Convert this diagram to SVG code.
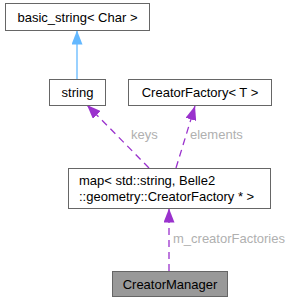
<svg xmlns="http://www.w3.org/2000/svg" width="292" height="301" viewBox="0 0 292 301">
<style>
.box{fill:#fff;stroke:#666;stroke-width:1}
.t{font-family:"Liberation Sans",Arial,sans-serif;font-size:13px;fill:#000}
.lbl{font-family:"Liberation Sans",Arial,sans-serif;font-size:13px;fill:#b0b0b0}
.e{fill:none;stroke:#9a32cd;stroke-width:1.3;stroke-dasharray:7,5}
</style>
<defs>
<marker id="pa" markerWidth="14" markerHeight="11" refX="14" refY="5.5" orient="auto" markerUnits="userSpaceOnUse" viewBox="0 0 14 11"><path d="M0,0 L14,5.5 L0,11 z" fill="#9a32cd"/></marker>
<marker id="ba" markerWidth="14" markerHeight="11" refX="14" refY="5.5" orient="auto" markerUnits="userSpaceOnUse" viewBox="0 0 14 11"><path d="M0,0 L14,5.5 L0,11 z" fill="#63b8ff"/></marker>
</defs>
<g id="connectors">
<line x1="77" y1="79" x2="77" y2="30.5" stroke="#63b8ff" stroke-width="1.3" marker-end="url(#ba)"/>
<path class="e" d="M149,168 L87,105" marker-end="url(#pa)"/>
<path class="e" d="M176,168 L195,106" marker-end="url(#pa)"/>
<path class="e" d="M169,271 L169,208.5" marker-end="url(#pa)"/>
<text class="lbl" x="131" y="139">keys</text>
<text class="lbl" x="190" y="139">elements</text>
<text class="lbl" x="173" y="243">m_creatorFactories</text>
</g>
<g id="basic_string">
<rect class="box" x="5.5" y="3.5" width="144" height="27"/>
<text class="t" x="77.5" y="21.5" text-anchor="middle">basic_string&lt; Char &gt;</text>
</g>
<g id="string">
<rect class="box" x="49.5" y="79.5" width="56" height="26"/>
<text class="t" x="77.5" y="97" text-anchor="middle">string</text>
</g>
<g id="CreatorFactory">
<rect class="box" x="128.5" y="79.5" width="143" height="26"/>
<text class="t" x="200" y="97" text-anchor="middle">CreatorFactory&lt; T &gt;</text>
</g>
<g id="map">
<rect class="box" x="68.5" y="168.5" width="202" height="40"/>
<text class="t" x="79" y="184.5">map&lt; std::string, Belle2</text>
<text class="t" x="79" y="201">::geometry::CreatorFactory * &gt;</text>
</g>
<g id="CreatorManager">
<rect x="112.5" y="271.5" width="115" height="25" fill="#999" stroke="#666"/>
<text class="t" x="170" y="288.5" text-anchor="middle">CreatorManager</text>
</g>
</svg>
